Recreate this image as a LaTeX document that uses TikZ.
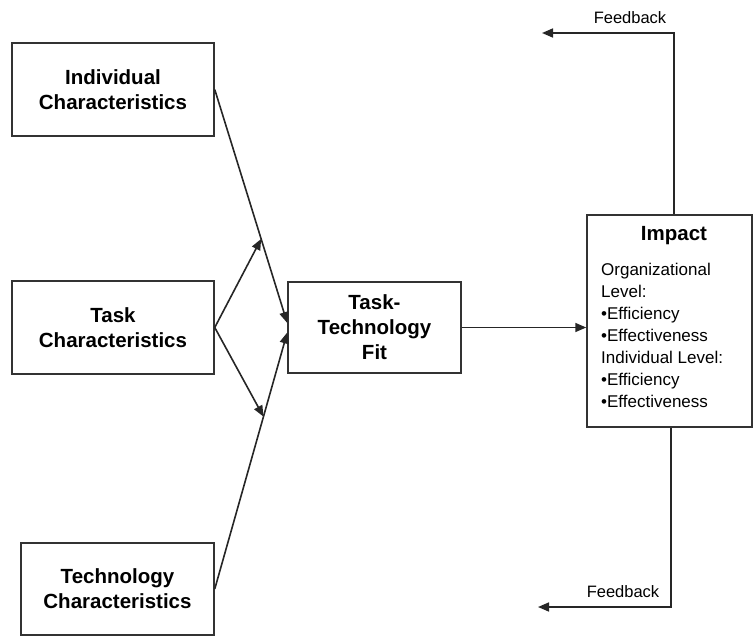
\documentclass[tikz,border=0pt]{standalone}
\usepackage{fontspec}
\setmainfont{Liberation Sans}
\usetikzlibrary{arrows.meta,calc}
\begin{document}
\begin{tikzpicture}[x=1pt,y=-1pt,
  box/.style={draw=black!80,line width=1.5pt,rectangle,inner sep=0pt,align=center,
     font=\fontsize{20.5}{25}\selectfont\bfseries},
  arr/.style={draw=black!85,line width=1.6pt,-{Triangle[length=11pt,width=9pt]}},
  fb/.style={font=\fontsize{16.5}{20}\selectfont,inner sep=0pt}
]
\useasboundingbox (0,0) rectangle (753,637);
\node[box,minimum width=202pt,minimum height=93pt] (ind) at (113,89.5) {Individual\\Characteristics};
\node[box,minimum width=202pt,minimum height=93pt] (task) at (113,327.5) {Task\\Characteristics};
\node[box,minimum width=193pt,minimum height=92pt] (tech) at (117.5,589) {Technology\\Characteristics};
\node[box,minimum width=173pt,minimum height=91pt] (ttf) at (374.5,327.5) {Task-\\Technology\\Fit};
\node[box,minimum width=165pt,minimum height=212pt] (imp) at (669.5,321) {};
\node[font=\fontsize{20.5}{24}\selectfont\bfseries,inner sep=0pt] (title) at (674,236) {Impact};
\node[anchor=north west,inner sep=0pt,align=left,font=\fontsize{17}{22}\selectfont] (body) at (601,263)
  {Organizational\\Level:\\•Efficiency\\•Effectiveness\\Individual Level:\\•Efficiency\\•Effectiveness};

\coordinate (ttfA) at ($(ttf.west)+(0,-4.5)$);
\coordinate (ttfB) at ($(ttf.west)+(0,5)$);
\path (ind.east) -- coordinate[pos=0.64] (m1) (ttfA);
\path (tech.east) -- coordinate[pos=0.672] (m2) (ttfB);
\draw[arr] (ind.east) -- (ttfA);
\draw[arr] (tech.east) -- (ttfB);
\draw[arr] (task.east) -- (m1);
\draw[arr] (task.east) -- (m2);
\draw[arr] (ttf.east) -- (ttf.east -| imp.west);

\coordinate (t1) at ($(imp.north)+(4.5,0)$);
\coordinate (t2) at (674,33);
\coordinate (t3) at (542,33);
\draw[arr] (t1) -- (t2) -- (t3);
\coordinate (b1) at ($(imp.south)+(1.5,0)$);
\coordinate (b2) at (671,607);
\coordinate (b3) at (538,607);
\draw[arr] (b1) -- (b2) -- (b3);
\node[fb] (fbtop) at (630,18) {Feedback};
\node[fb] (fbbot) at (623,592) {Feedback};
\end{tikzpicture}
\end{document}
